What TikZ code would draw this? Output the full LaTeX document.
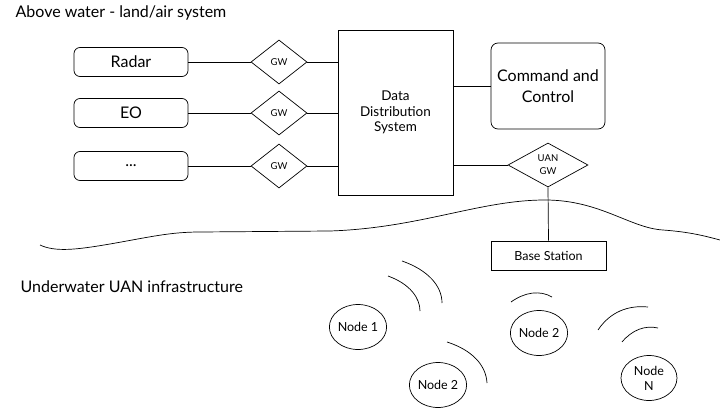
\documentclass[tikz,border=0pt]{standalone}
\usepackage{fontspec}
\setmainfont{Lato}
\usetikzlibrary{shapes.geometric}
\begin{document}
\begin{tikzpicture}[x=1pt, y=-1pt, line width=0.7pt,
    sensor/.style={draw, rounded corners=6pt, minimum width=114pt, minimum height=29pt, font=\fontsize{16}{19}\selectfont},
    gw/.style={draw, diamond, inner sep=0pt, minimum width=56pt, minimum height=44pt, align=center, font=\fontsize{9.5}{13}\selectfont},
    unode/.style={draw, ellipse, inner sep=0pt, minimum width=56pt, minimum height=45pt, align=center, font=\fontsize{12.5}{15}\selectfont}]
    \useasboundingbox (0,0) rectangle (720,409);

    \node[anchor=base west, font=\fontsize{16}{19}\selectfont] (above) at (12,18) {Above water - land/air system};
    \node[anchor=base west, font=\fontsize{16}{19}\selectfont] (under) at (17,292) {Underwater UAN infrastructure};

    \node[sensor] (radar) at (131,62) {Radar};
    \node[sensor] (eo) at (131,113) {EO};
    \node[sensor] (dots) at (131,166) {...};

    \node[gw] (gwa) at (279,62) {GW};
    \node[gw] (gwb) at (279,113) {GW};
    \node[gw] (gwc) at (279,166) {GW};

    \node[draw, minimum width=115pt, minimum height=165pt, align=center, font=\fontsize{13.5}{15.5}\selectfont] (dds) at (395.5,112.5) {Data\\Distribution\\System};
    \node[draw, rounded corners=7pt, minimum width=114pt, minimum height=86pt, align=center, font=\fontsize{16}{21}\selectfont] (cc) at (548,86) {Command and\\Control};
    \node[gw, minimum width=80pt] (uangw) at (548,165) {UAN\\GW};
    \node[draw, minimum width=115pt, minimum height=29pt, font=\fontsize{12.5}{14}\selectfont] (base) at (548.5,255.5) {Base Station};

    \node[unode] (nodea) at (358,327) {Node 1};
    \node[unode] (nodeb) at (438,385) {Node 2};
    \node[unode] (nodec) at (539,333) {Node 2};
    \node[unode] (noden) at (649,378) {Node\\N};

    \draw (radar) -- (gwa);
    \draw (eo) -- (gwb);
    \draw (dots) -- (gwc);
    \draw (gwa) -- (gwa -| dds.west);
    \draw (gwb) -- (gwb -| dds.west);
    \draw (gwc) -- (gwc -| dds.west);
    \draw (cc.west -| dds.east) -- (cc.west);
    \draw (uangw.west -| dds.east) -- (uangw.west);
    \draw (uangw.south) -- (base.north);

    % water surface
    \draw (40,245) .. controls (55,252) and (75,250) .. (110,244) .. controls (150,237) and (170,232) .. (200,232) -- (330,231)
        .. controls (420,228) and (480,200) .. (545,200) .. controls (600,200) and (630,228) .. (663,230)
        .. controls (690,232) and (705,236) .. (720,240);

    % signals
    \draw (388,276) .. controls (410,284) and (420,298) .. (420,311);
    \draw (402,261) .. controls (428,270) and (442,286) .. (442,303);
    \draw (447,342) .. controls (472,350) and (486,365) .. (487,383);
    \draw (511,302) .. controls (525,292) and (540,290) .. (552,297);
    \draw (598,330) .. controls (610,312) and (628,305) .. (648,307);
    \draw (622,342) .. controls (632,330) and (645,325) .. (658,328);
\end{tikzpicture}
\end{document}
